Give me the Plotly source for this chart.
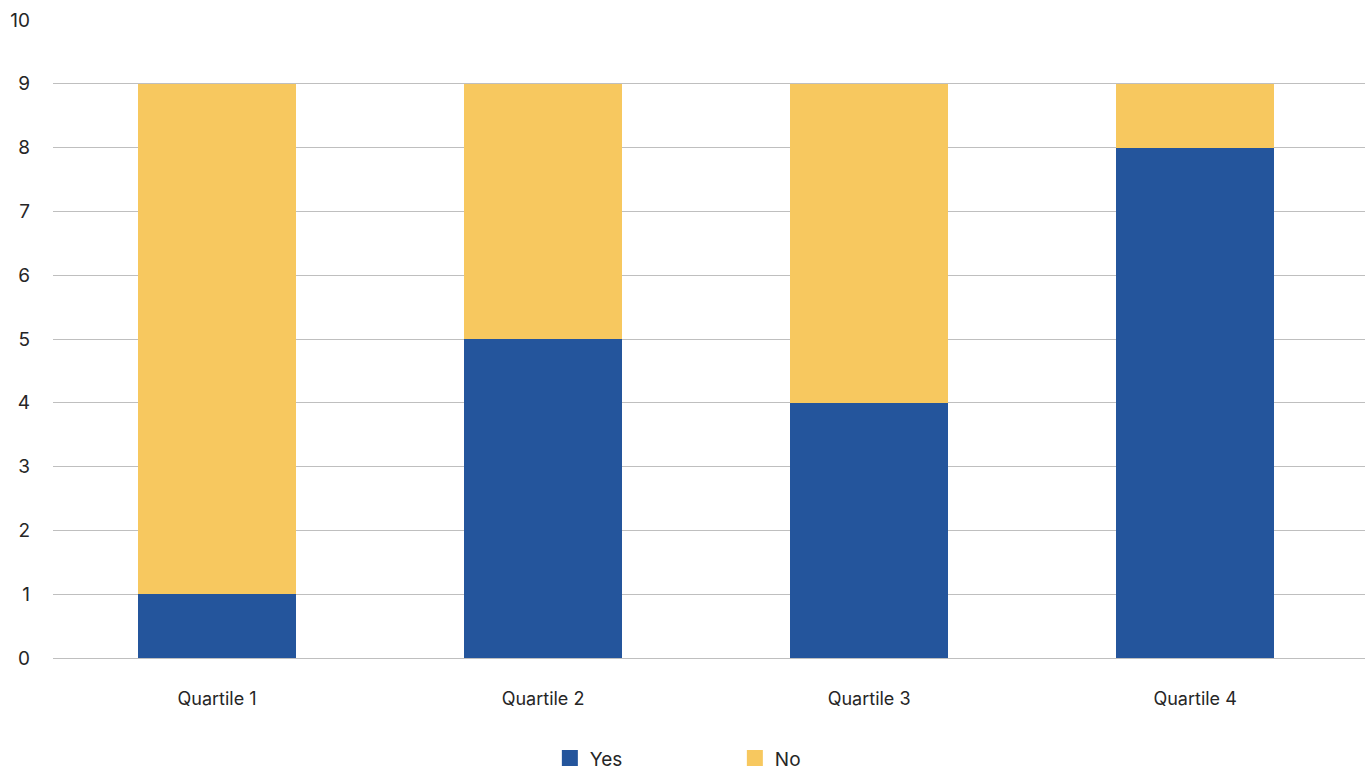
import plotly.graph_objects as go

# Stacked counts per quartile
categories = ["Quartile 1", "Quartile 2", "Quartile 3", "Quartile 4"]
yes_values = [1, 5, 4, 8]
no_values = [8, 4, 5, 1]
y_ticks = list(range(0, 11))

BLUE = "#24559C"
YELLOW = "#F7C85F"
FONT = "Inter, 'Open Sans', sans-serif"

fig = go.Figure()
fig.add_trace(go.Bar(name="Yes", x=categories, y=yes_values, marker_color=BLUE,
                     marker_line_width=0, showlegend=False))
fig.add_trace(go.Bar(name="No", x=categories, y=no_values, marker_color=YELLOW,
                     marker_line_width=0, showlegend=False))

# Legend entries with larger square swatches
for name, color in [("Yes", BLUE), ("No", YELLOW)]:
    fig.add_trace(go.Scatter(x=[None], y=[None], mode="markers", name=name,
                             marker=dict(symbol="square", size=19, color=color),
                             showlegend=True, hoverinfo="skip"))

fig.update_layout(
    barmode="stack",
    bargap=0.515,
    width=1371,
    height=769,
    margin=dict(l=53, r=6, t=20, b=111),
    paper_bgcolor="white",
    plot_bgcolor="white",
    font=dict(family=FONT, size=18, color="#262626"),
    showlegend=True,
    legend=dict(
        orientation="h",
        traceorder="normal",
        xref="container", yref="container",
        x=0.536, xanchor="center",
        y=0.014, yanchor="middle",
        entrywidth=140, entrywidthmode="pixels",
        font=dict(size=19, color="#262626"),
        itemsizing="trace",
        itemwidth=30,
    ),
    xaxis=dict(
        range=[-0.503, 3.521],
        showgrid=False,
        showline=False,
        ticks="",
        ticklabelstandoff=28,
        tickfont=dict(size=18),
    ),
    yaxis=dict(
        range=[0, 10],
        tickvals=y_ticks,
        showgrid=True,
        gridcolor="#BFBFBF",
        gridwidth=1,
        zeroline=True,
        zerolinecolor="#BFBFBF",
        zerolinewidth=1,
        showline=False,
        ticks="",
        ticklabelstandoff=22,
        tickfont=dict(size=19),
    ),
)

fig.write_html("out.html")
